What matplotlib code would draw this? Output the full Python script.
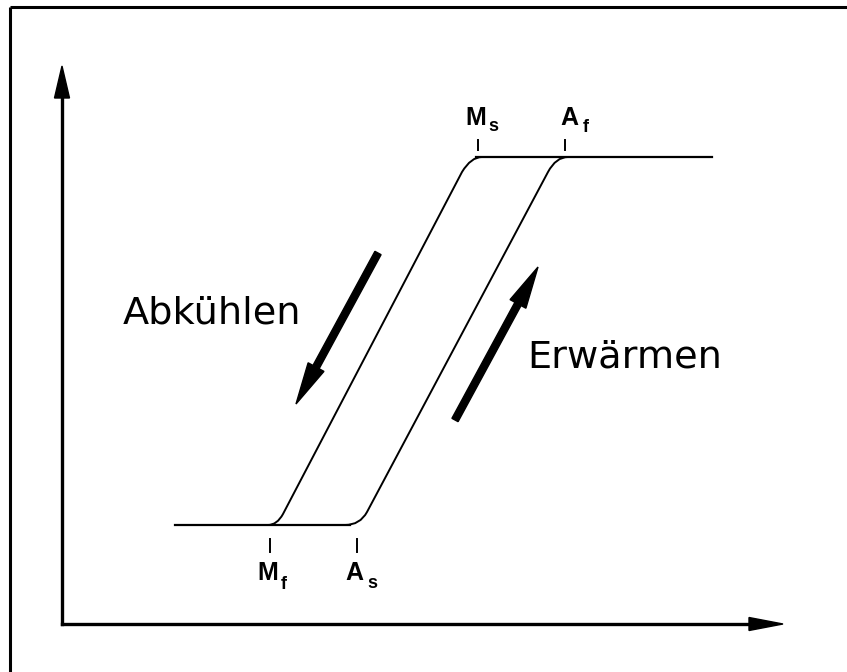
import matplotlib
matplotlib.use("Agg")
import matplotlib.pyplot as plt
from matplotlib.path import Path
from matplotlib.patches import PathPatch, FancyArrow

# transformation temperatures (x position, px) and levels (y position, px)
temps = {"M_f": 270, "A_s": 357, "M_s": 478, "A_f": 565}
low_level = 525
high_level = 157

# flat parts of the hysteresis loop
low_line_x = [175, 350]
high_line_x = [476, 712]

# the two slanted branches: start, corner ctrl, corner end, line end, corner ctrl, corner end
cool_branch = [(268, 525), (277, 525), (283, 514), (462, 172), (471, 157), (482, 157)]
heat_branch = [(345, 525), (360, 525), (367, 512), (548, 172), (556, 157), (568, 157)]

# thick direction arrows (tail, tip)
cool_arrow = [(378, 253), (296, 404)]
heat_arrow = [(455, 420), (538, 267)]

# label positions: (main letter x, baseline y, sub x, sub baseline y)
label_pos = {
    "M_s": (465, 125, 488, 131),
    "A_f": (560, 125, 583, 132),
    "M_f": (257, 580, 281, 589),
    "A_s": (345, 580, 367, 588),
}

fig = plt.figure(figsize=(8.47, 6.72), dpi=100)
ax = fig.add_axes([0, 0, 1, 1])
ax.set_xlim(0, 847)
ax.set_ylim(672, 0)
ax.axis("off")

# frame (only left and top visible on the scan)
ax.plot([10, 10], [672, 7], color="black", lw=2.2, solid_capstyle="butt")
ax.plot([10, 847], [7, 7], color="black", lw=2.2, solid_capstyle="butt")

# axes with arrows
ax.plot([62, 62], [624, 95], color="black", lw=2.4)
ax.add_patch(FancyArrow(62, 100, 0, -34, width=0, head_width=15, head_length=32,
                        length_includes_head=True, color="black"))
ax.plot([62, 752], [624, 624], color="black", lw=2.4)
ax.add_patch(FancyArrow(745, 624, 38, 0, width=0, head_width=13, head_length=34,
                        length_includes_head=True, color="black"))

# flat parts
ax.plot(low_line_x, [low_level, low_level], color="black", lw=1.6)
ax.plot(high_line_x, [high_level, high_level], color="black", lw=1.6)

codes = [Path.MOVETO, Path.CURVE3, Path.CURVE3, Path.LINETO, Path.CURVE3, Path.CURVE3]
for br in (cool_branch, heat_branch):
    ax.add_patch(PathPatch(Path(br, codes), fill=False, lw=1.4, edgecolor="black"))

# ticks at transformation temperatures
for name in ("M_s", "A_f"):
    ax.plot([temps[name], temps[name]], [140, 150], color="black", lw=1.4)
for name in ("M_f", "A_s"):
    ax.plot([temps[name], temps[name]], [539, 552], color="black", lw=1.4)

# labels
for name, (mx, my, sx, sy) in label_pos.items():
    main, sub = name.split("_")
    ax.text(mx, my, main, fontsize=18, fontweight="bold", family="Liberation Sans",
            ha="left", va="baseline")
    ax.text(sx, sy, sub, fontsize=13, fontweight="bold", family="Liberation Sans",
            ha="left", va="baseline")

# direction arrows
for (x0, y0), (x1, y1) in (cool_arrow, heat_arrow):
    ax.add_patch(FancyArrow(x0, y0, x1 - x0, y1 - y0, width=7, head_width=18,
                            head_length=42, length_includes_head=True, color="black"))

ax.text(123, 323, "Abkühlen", fontsize=27.5, family="DejaVu Sans", ha="left", va="baseline")
ax.text(527, 367, "Erwärmen", fontsize=27.5, family="DejaVu Sans", ha="left", va="baseline")

fig.savefig("out.png", dpi=100)
